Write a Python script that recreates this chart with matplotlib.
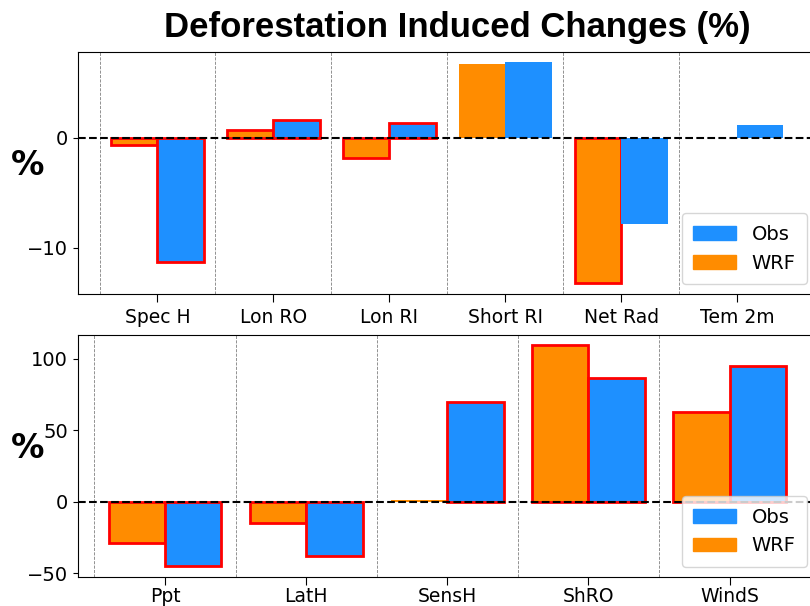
import numpy as np
import matplotlib
matplotlib.use('Agg')
import matplotlib.pyplot as plt
from matplotlib.patches import Patch

# top panel data
top_cats = ['Spec H', 'Lon RO', 'Lon RI', 'Short RI', 'Net Rad', 'Tem 2m']
top_wrf = [-0.67, 0.75, -1.82, 6.73, -13.2, 0.0]
top_obs = [-11.27, 1.6, 1.36, 6.87, -7.88, 1.15]
top_wrf_sig = [True, True, True, False, True, False]
top_obs_sig = [True, True, True, False, False, False]

# bottom panel data
bot_cats = ['Ppt', 'LatH', 'SensH', 'ShRO', 'WindS']
bot_wrf = [-29.0, -14.6, 1.0, 109.3, 62.4]
bot_obs = [-44.9, -37.7, 69.4, 86.5, 94.9]
bot_wrf_sig = [True, True, False, True, True]
bot_obs_sig = [True, True, True, True, True]

c_wrf = '#FF8C00'
c_obs = '#1E90FF'
w = 0.4

fig = plt.figure(figsize=(8.1, 6.06), dpi=100)
ax1 = fig.add_axes([0.0957, 0.515, 0.913, 0.399])
ax2 = fig.add_axes([0.0957, 0.0484, 0.913, 0.3996])


def panel(ax, cats, wrf, obs, wsig, osig, ylim, yticks, margin, pad):
    x = np.arange(len(cats))
    bw = ax.bar(x - w / 2, wrf, w, color=c_wrf)
    bo = ax.bar(x + w / 2, obs, w, color=c_obs)
    for b, s in zip(bw, wsig):
        if s:
            b.set_edgecolor('red')
            b.set_linewidth(2)
    for b, s in zip(bo, osig):
        if s:
            b.set_edgecolor('red')
            b.set_linewidth(2)
    for i in x:
        ax.axvline(i - 0.5, color='gray', ls='--', lw=0.6, zorder=0)
    ax.axhline(0, color='black', ls='--', lw=1.5, zorder=5)
    ax.set_xlim(-margin, len(cats) - 1 + margin)
    ax.set_ylim(*ylim)
    ax.set_yticks(yticks)
    ax.set_xticks(x)
    ax.set_xticklabels(cats, fontsize=13.5)
    for t in ax.get_yticklabels():
        t.set_fontsize(14)
    ax.tick_params(axis='x', length=6, pad=pad)
    ax.set_ylabel('%', fontsize=24, fontweight='bold', rotation=0,
                  va='center', ha='center')
    ax.yaxis.set_label_coords(-0.068, 0.53)
    handles = [Patch(color=c_obs, label='Obs'), Patch(color=c_wrf, label='WRF')]
    ax.legend(handles=handles, loc='lower right', fontsize=14,
              handlelength=2.2, borderpad=0.6)


panel(ax1, top_cats, top_wrf, top_obs, top_wrf_sig, top_obs_sig,
      (-14.2, 7.8), [-10, 0], 0.69, 4)
panel(ax2, bot_cats, bot_wrf, bot_obs, bot_wrf_sig, bot_obs_sig,
      (-52.3, 116.8), [-50, 0, 50, 100], 0.62, 1.5)

fig.text(0.565, 0.955, 'Deforestation Induced Changes (%)', ha='center',
         va='center', fontsize=25, fontweight='bold',
         family=['Liberation Sans', 'DejaVu Sans'])

plt.savefig('out.png', dpi=100)
